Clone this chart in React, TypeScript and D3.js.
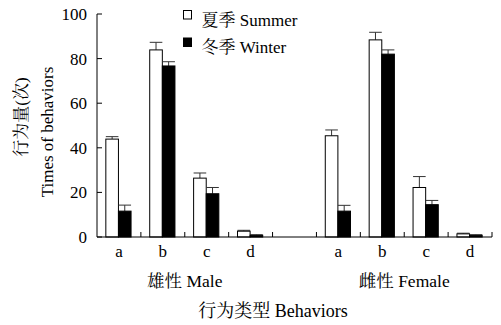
import React from "react";
import * as d3 from "d3";

// Behaviour categories and the two sex groups
const behaviors = ["a", "b", "c", "d"];
const groups = ["Male", "Female"];
const groupLabels = ["雄性 Male", "雌性 Female"];
const seasons = ["Summer", "Winter"];
const seasonLabels = ["夏季 Summer", "冬季 Winter"];

// Mean counts per behaviour (a–d) and their standard errors
const maleSummer = [43.9, 83.9, 26.4, 2.6];
const maleSummerErr = [1.1, 3.4, 2.3, 0.4];
const maleWinter = [11.6, 76.7, 19.4, 0.8];
const maleWinterErr = [2.7, 1.9, 2.8, 0.2];
const femaleSummer = [45.4, 88.4, 22.2, 1.4];
const femaleSummerErr = [2.6, 3.4, 4.9, 0.3];
const femaleWinter = [11.6, 82.0, 14.5, 0.8];
const femaleWinterErr = [2.6, 1.9, 1.9, 0.2];

const yTicks = [0, 20, 40, 60, 80, 100];

const W = 501;
const H = 325;
const margin = { left: 97, right: 9, top: 14, bottom: 88 };

const FONT = "'Liberation Serif', 'Times New Roman', 'Noto Serif CJK SC', 'Noto Sans CJK SC', serif";

type Bar = {
  slot: string;
  season: string;
  value: number;
  err: number;
};

export default function App() {
  // Slots along the x axis: four behaviours per group with an empty slot between groups
  const slots: string[] = [];
  groups.forEach((g, gi) => {
    if (gi > 0) slots.push("gap" + gi);
    behaviors.forEach((b) => slots.push(g + "-" + b));
  });

  const x = d3
    .scaleBand<string>()
    .domain(slots)
    .range([margin.left, W - margin.right])
    .paddingInner(0)
    .paddingOuter(0);

  const inner = d3
    .scaleBand<string>()
    .domain(seasons)
    .range([0, x.bandwidth()])
    .paddingInner(0)
    .paddingOuter(0.74);

  const y = d3
    .scaleLinear()
    .domain([0, 100])
    .range([H - margin.bottom, margin.top]);

  const values: Record<string, Record<string, [number[], number[]]>> = {
    Male: { Summer: [maleSummer, maleSummerErr], Winter: [maleWinter, maleWinterErr] },
    Female: { Summer: [femaleSummer, femaleSummerErr], Winter: [femaleWinter, femaleWinterErr] },
  };

  const bars: Bar[] = [];
  groups.forEach((g) => {
    seasons.forEach((s) => {
      const [v, e] = values[g][s];
      behaviors.forEach((b, i) => {
        bars.push({ slot: g + "-" + b, season: s, value: v[i], err: e[i] });
      });
    });
  });

  const y0 = y(0);
  const xLeft = margin.left;
  const xRight = W - margin.right;
  const bw = inner.bandwidth();

  // x tick marks at each slot boundary
  const xTickPos = slots.map((s) => (x(s) as number) + x.bandwidth());

  return (
    <svg
      width={W}
      height={H}
      style={{ position: "absolute", left: 0, top: 0, background: "#fff" }}
      fontFamily={FONT}
    >
      <rect x={0} y={0} width={W} height={H} fill="#fff" />

      {/* bars */}
      {bars.map((d, i) => {
        const bx = (x(d.slot) as number) + (inner(d.season) as number) - 0.5;
        const by = y(d.value);
        const fill = d.season === "Summer" ? "#fff" : "#000";
        const capY = y(d.value + d.err);
        const cx = bx + bw / 2;
        return (
          <g key={i}>
            <line x1={cx} x2={cx} y1={by} y2={capY} stroke="#333" strokeWidth={1} />
            <line x1={bx} x2={bx + bw} y1={capY} y2={capY} stroke="#333" strokeWidth={1} />
            <rect
              x={bx}
              y={by}
              width={bw}
              height={y0 - by}
              fill={fill}
              stroke="#000"
              strokeWidth={1}
            />
          </g>
        );
      })}

      {/* y axis */}
      <line x1={xLeft} x2={xLeft} y1={y(100)} y2={y0} stroke="#000" strokeWidth={1} />
      {yTicks.map((t) => (
        <g key={t}>
          <line x1={xLeft} x2={xLeft + 5} y1={y(t)} y2={y(t)} stroke="#000" strokeWidth={1} />
          <text x={xLeft - 10} y={y(t)} dy="0.35em" textAnchor="end" fontSize={17}>
            {t}
          </text>
        </g>
      ))}

      {/* x axis */}
      <line x1={xLeft} x2={xRight} y1={y0} y2={y0} stroke="#000" strokeWidth={1} />
      {xTickPos.map((p, i) => (
        <line key={i} x1={p} x2={p} y1={y0} y2={y0 - 5} stroke="#000" strokeWidth={1} />
      ))}
      {slots
        .filter((s) => !s.startsWith("gap"))
        .map((s) => (
          <text
            key={s}
            x={(x(s) as number) + x.bandwidth() / 2}
            y={257}
            textAnchor="middle"
            fontSize={17}
          >
            {s.split("-")[1]}
          </text>
        ))}

      {/* group labels */}
      {groups.map((g, gi) => {
        const first = x(g + "-" + behaviors[0]) as number;
        const last = (x(g + "-" + behaviors[behaviors.length - 1]) as number) + x.bandwidth();
        return (
          <text key={g} x={(first + last) / 2} y={286.5} textAnchor="middle" fontSize={17.5}>
            {groupLabels[gi]}
          </text>
        );
      })}

      <text x={273} y={317} textAnchor="middle" fontSize={18}>
        行为类型 Behaviors
      </text>

      {/* y axis titles */}
      <text transform="translate(27,117) rotate(-90)" textAnchor="middle" fontSize={17}>
        行为量(次)
      </text>
      <text transform="translate(53,132) rotate(-90)" textAnchor="middle" fontSize={17}>
        Times of behaviors
      </text>

      {/* legend */}
      {seasons.map((s, i) => (
        <g key={s} transform={`translate(183,${10 + i * 27.5})`}>
          <rect
            x={0.5}
            y={0.5}
            width={8}
            height={8.5}
            fill={s === "Summer" ? "#fff" : "#000"}
            stroke="#000"
            strokeWidth={1}
          />
          <text x={18.5} y={15.5} fontSize={17}>
            {seasonLabels[i]}
          </text>
        </g>
      ))}
    </svg>
  );
}
